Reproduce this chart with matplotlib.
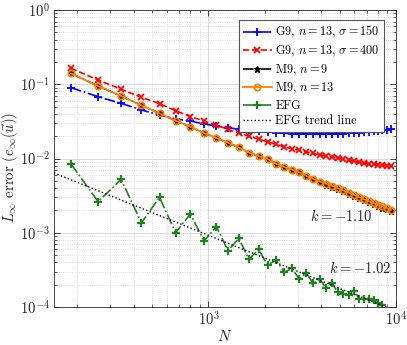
import matplotlib
matplotlib.use("Agg")
import matplotlib.pyplot as plt
from matplotlib.ticker import LogLocator, NullFormatter

plt.rcParams['font.family'] = 'serif'
plt.rcParams['font.serif'] = ['cmr10', 'DejaVu Serif']
plt.rcParams['mathtext.fontset'] = 'cm'
plt.rcParams['axes.formatter.use_mathtext'] = True
plt.rcParams['axes.unicode_minus'] = True

# ---- data ----
N = [185, 258, 342, 439, 548, 668, 801, 946, 1102, 1271, 1452, 1644, 1849, 2066,
     2294, 2535, 2788, 3053, 3329, 3618, 3919, 4232, 4556, 4893, 5242, 5603, 5975,
     6360, 6757, 7166, 7586, 8019, 8464, 8921, 9390]

g9_s150 = [0.0900, 0.0679, 0.0553, 0.0450, 0.0385, 0.0340, 0.0320, 0.0292, 0.0274,
           0.0260, 0.0248, 0.0239, 0.0232, 0.0226, 0.0223, 0.0219, 0.0216, 0.0214,
           0.0213, 0.0212, 0.0212, 0.0212, 0.0213, 0.0214, 0.0216, 0.0218, 0.0220,
           0.0223, 0.0226, 0.0230, 0.0234, 0.0238, 0.0242, 0.0245, 0.0248]

g9_s400 = [0.164, 0.114, 0.0855, 0.0667, 0.0547, 0.0441, 0.0366, 0.0321, 0.0280,
           0.0247, 0.0220, 0.0200, 0.0182, 0.0168, 0.0155, 0.0143, 0.0135, 0.0129,
           0.0123, 0.0117, 0.0112, 0.0108, 0.0105, 0.0101, 0.00977, 0.00944, 0.00912,
           0.00891, 0.00871, 0.00851, 0.00838, 0.00822, 0.00809, 0.00800, 0.00794]

m9_n9 = [0.140, 0.0946, 0.0695, 0.0519, 0.0406, 0.0323, 0.0268, 0.0220, 0.0189,
         0.0163, 0.0141, 0.0120, 0.0108, 0.00984, 0.00851, 0.00767, 0.00708, 0.00652,
         0.00582, 0.00531, 0.00480, 0.00446, 0.00415, 0.00386, 0.00360, 0.00336,
         0.00313, 0.00291, 0.00272, 0.00256, 0.00241, 0.00230, 0.00216, 0.00206, 0.00195]

m9_n13 = [0.140, 0.0946, 0.0695, 0.0519, 0.0406, 0.0323, 0.0268, 0.0220, 0.0189,
          0.0163, 0.0141, 0.0120, 0.0108, 0.00984, 0.00851, 0.00767, 0.00708, 0.00652,
          0.00582, 0.00531, 0.00490, 0.00457, 0.00427, 0.00398, 0.00372, 0.00347,
          0.00324, 0.00302, 0.00282, 0.00266, 0.00251, 0.00240, 0.00226, 0.00216, 0.00204]

N_efg = [185, 258, 342, 439, 548, 668, 801, 946, 1102, 1271, 1452, 1644, 1849, 2066,
         2294, 2535, 2788, 3053, 3329, 3618, 3919, 4232, 4556, 4893, 5242, 5603, 5975,
         6360, 6757, 7166, 7586, 8019, 8464]
efg = [0.00843, 0.00262, 0.00525, 0.00136, 0.00300, 0.00100, 0.00179, 0.000774,
       0.00121, 0.000573, 0.000841, 0.000439, 0.000598, 0.000368, 0.000430, 0.000293,
       0.000332, 0.000238, 0.000284, 0.000208, 0.000238, 0.000180, 0.000209, 0.000158,
       0.000150, 0.000146, 0.000164, 0.000130, 0.000127, 0.000129, 0.000124, 0.000112,
       0.000106]

N_trend = [150, 10000]
efg_trend = [0.0064, 8.8e-5]

labels = [r'G9, $n=13$, $\sigma=150$', r'G9, $n=13$, $\sigma=400$', r'M9, $n=9$',
          r'M9, $n=13$', 'EFG', 'EFG trend line']
slope_labels = [r'$k=-1.10$', r'$k=-1.02$']

# ---- figure ----
fig = plt.figure(figsize=(4.07, 3.45), dpi=100)
ax = fig.add_axes([54/407, 38/345, 342/407, 297/345])

ax.plot(N, g9_s150, color=(0, 0, 1), ls='-.', lw=1.2, marker='+', ms=6, mew=1.3, label=labels[0])
ax.plot(N, g9_s400, color=(1, 0, 0), ls='--', lw=1.2, marker='x', ms=4.5, mew=1.3, label=labels[1])
ax.plot(N, m9_n9, color='k', ls='-.', lw=1.2, marker='*', ms=4.5, label=labels[2])
ax.plot(N, m9_n13, color=(1, 0.5, 0), ls='-', lw=1.3, marker='o', ms=4.5, mfc='none', mew=1.3, label=labels[3])
ax.plot(N_efg, efg, color=(0.13, 0.5, 0.13), ls='-.', lw=1.2, marker='+', ms=6, mew=1.6, label=labels[4])
ax.plot(N_trend, efg_trend, color='k', ls=':', lw=1.0, label=labels[5])

ax.set_xscale('log')
ax.set_yscale('log')
ax.set_xlim(150, 10000)
ax.set_ylim(1e-4, 1)

ax.xaxis.set_major_locator(LogLocator(base=10, numticks=10))
ax.xaxis.set_minor_locator(LogLocator(base=10, subs=range(2, 10), numticks=20))
ax.xaxis.set_minor_formatter(NullFormatter())
ax.yaxis.set_major_locator(LogLocator(base=10, numticks=10))
ax.yaxis.set_minor_locator(LogLocator(base=10, subs=range(2, 10), numticks=20))
ax.yaxis.set_minor_formatter(NullFormatter())

axc = '#262626'
for s in ax.spines.values():
    s.set_color(axc)
    s.set_linewidth(0.6)
ax.tick_params(which='both', direction='in', top=True, right=True, colors=axc, labelsize=10.5)
ax.tick_params(which='major', length=4, width=0.6, pad=3)
ax.tick_params(which='minor', length=2, width=0.5)

ax.grid(True, which='major', color='#d9d9d9', ls='-', lw=0.7)
ax.grid(True, which='minor', color='#d0d0d0', ls=':', lw=0.6)
ax.set_axisbelow(True)

ax.set_xlabel(r'$N$', fontsize=11, color=axc)
ax.xaxis.set_label_coords(0.5, -0.075)
ax.set_ylabel(r'$L_\infty$ error $(e_\infty(\vec{u}))$', fontsize=10.5, color=axc)
ax.yaxis.set_label_coords(-0.10, 0.47)

ax.text(5100, 0.00168, slope_labels[0], fontsize=10.5, ha='center', va='center', color=axc)
ax.text(6440, 0.000338, slope_labels[1], fontsize=10.5, ha='center', va='center', color=axc)

leg = ax.legend(loc='upper right', fontsize=8.8, frameon=True, fancybox=False,
                framealpha=1, edgecolor='#555555', handlelength=2.3,
                labelspacing=0.28, borderpad=0.35, handletextpad=0.3, borderaxespad=0.0,
                bbox_to_anchor=(1 - 12/342, 1 - 10/297))
leg.get_frame().set_linewidth(0.8)

fig.savefig('out.png', dpi=100)
